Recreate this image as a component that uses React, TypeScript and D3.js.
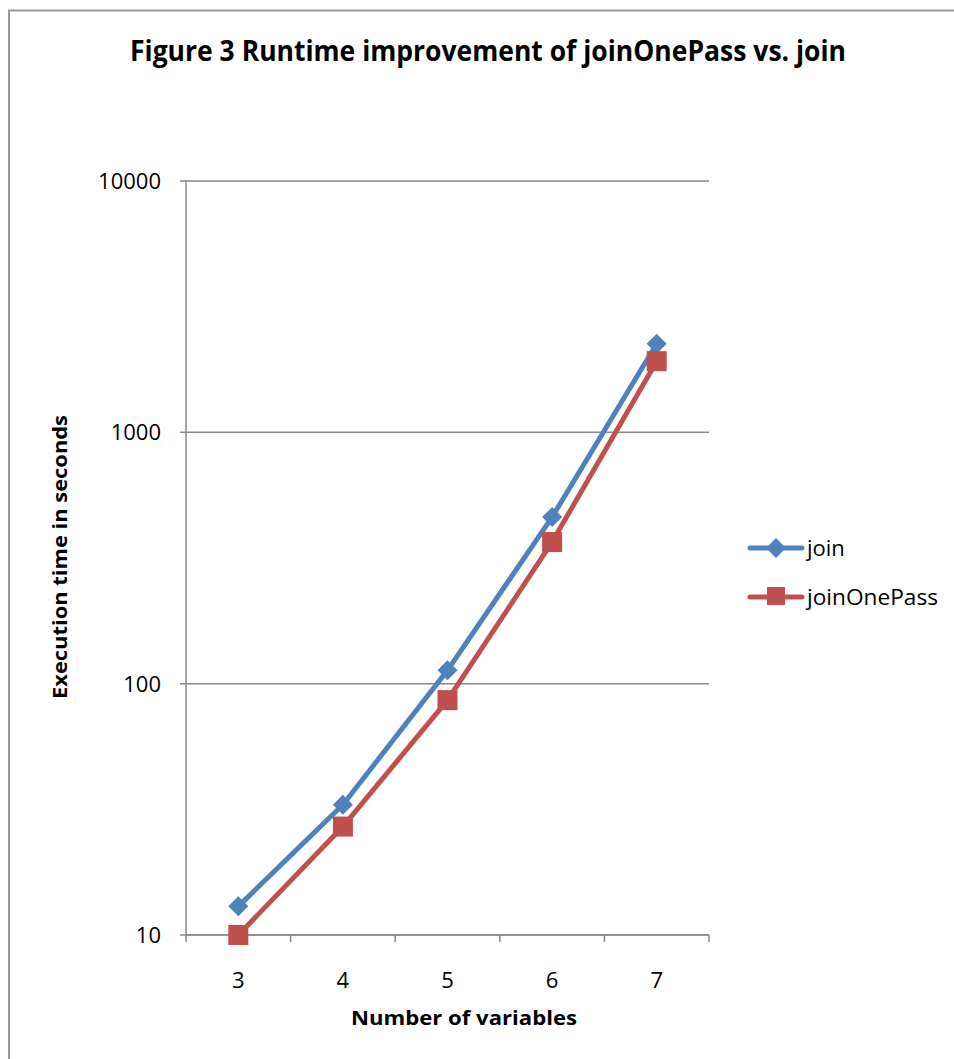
import React from "react";
import * as d3 from "d3";

const categories = [3, 4, 5, 6, 7];
const joinValues = [13, 33, 113, 460, 2250];
const joinOnePassValues = [10, 27, 86, 366, 1920];
const yTicks = [10, 100, 1000, 10000];
const seriesNames = ["join", "joinOnePass"];

const W = 954;
const H = 1059;
const left = 186;
const right = 709;
const top = 181;
const bottom = 935;

const BLUE = "#4F81BD";
const RED = "#C0504D";
const FONT = "'Open Sans', 'Liberation Sans', sans-serif";

export default function App() {
  const x = d3
    .scaleBand<number>()
    .domain(categories)
    .range([left, right])
    .paddingInner(0)
    .paddingOuter(0);
  const y = d3.scaleLog().domain([10, 10000]).range([bottom, top]);
  const cx = (c: number) => (x(c) as number) + x.bandwidth() / 2;
  const line = d3
    .line<[number, number]>()
    .x((d) => cx(d[0]))
    .y((d) => y(d[1]));
  const joinPts = categories.map((c, i) => [c, joinValues[i]] as [number, number]);
  const onePts = categories.map((c, i) => [c, joinOnePassValues[i]] as [number, number]);
  const tickXs = [...categories.map((c) => x(c) as number), right];

  const diamond = (px: number, py: number, r: number) =>
    `M${px},${py - r}L${px + r},${py}L${px},${py + r}L${px - r},${py}Z`;

  return (
    <svg
      width={W}
      height={H}
      style={{ position: "absolute", left: 0, top: 0, background: "#fff" }}
    >
      <rect x={9} y={10.5} width={W + 20} height={H + 20} fill="#fff" stroke="#999" strokeWidth={2} />
      <text
        x={488}
        y={61}
        textAnchor="middle"
        fontFamily={FONT}
        fontWeight="bold"
        fontSize={28}
        textLength={716}
        lengthAdjust="spacingAndGlyphs"
        fill="#000"
      >
        Figure 3 Runtime improvement of joinOnePass vs. join
      </text>

      {/* gridlines */}
      {yTicks.map((t) => (
        <line key={t} x1={left - 6} x2={right} y1={y(t)} y2={y(t)} stroke="#888" strokeWidth={1.5} />
      ))}
      {/* y axis */}
      <line x1={left} x2={left} y1={top} y2={bottom} stroke="#888" strokeWidth={1.5} />
      {/* x axis */}
      <line x1={left} x2={right} y1={bottom} y2={bottom} stroke="#888" strokeWidth={1.5} />
      {tickXs.map((tx, i) => (
        <line key={i} x1={tx} x2={tx} y1={bottom} y2={bottom + 7} stroke="#888" strokeWidth={1.5} />
      ))}

      {yTicks.map((t) => (
        <text key={t} x={161} y={y(t) + 8} textAnchor="end" fontFamily={FONT} fontSize={22} fill="#000">
          {t}
        </text>
      ))}
      {categories.map((c) => (
        <text key={c} x={cx(c)} y={988} textAnchor="middle" fontFamily={FONT} fontSize={22} fill="#000">
          {c}
        </text>
      ))}

      <text
        x={464}
        y={1025}
        textAnchor="middle"
        fontFamily={FONT}
        fontWeight="bold"
        fontSize={20}
        textLength={226}
        lengthAdjust="spacingAndGlyphs"
        fill="#000"
      >
        Number of variables
      </text>
      <text
        transform={`translate(67,557) rotate(-90)`}
        textAnchor="middle"
        fontFamily={FONT}
        fontWeight="bold"
        fontSize={20}
        textLength={284}
        lengthAdjust="spacingAndGlyphs"
        fill="#000"
      >
        Execution time in seconds
      </text>

      {/* series */}
      <path d={line(joinPts) || ""} fill="none" stroke={BLUE} strokeWidth={5} strokeLinejoin="round" strokeLinecap="round" />
      <path d={line(onePts) || ""} fill="none" stroke={RED} strokeWidth={5} strokeLinejoin="round" strokeLinecap="round" />
      {joinPts.map((d, i) => (
        <path key={i} d={diamond(cx(d[0]), y(d[1]), 10)} fill={BLUE} />
      ))}
      {onePts.map((d, i) => (
        <rect key={i} x={cx(d[0]) - 10} y={y(d[1]) - 10} width={20} height={20} fill={RED} />
      ))}

      {/* legend */}
      <line x1={750} x2={802} y1={548} y2={548} stroke={BLUE} strokeWidth={5} strokeLinecap="round" />
      <path d={diamond(776, 548, 10)} fill={BLUE} />
      <text x={807} y={556} fontFamily={FONT} fontSize={22} fill="#000">
        {seriesNames[0]}
      </text>
      <line x1={750} x2={802} y1={597} y2={597} stroke={RED} strokeWidth={5} strokeLinecap="round" />
      <rect x={767} y={587} width={18} height={18} fill={RED} />
      <text x={807} y={605} fontFamily={FONT} fontSize={22} textLength={131} lengthAdjust="spacingAndGlyphs" fill="#000">
        {seriesNames[1]}
      </text>
    </svg>
  );
}
